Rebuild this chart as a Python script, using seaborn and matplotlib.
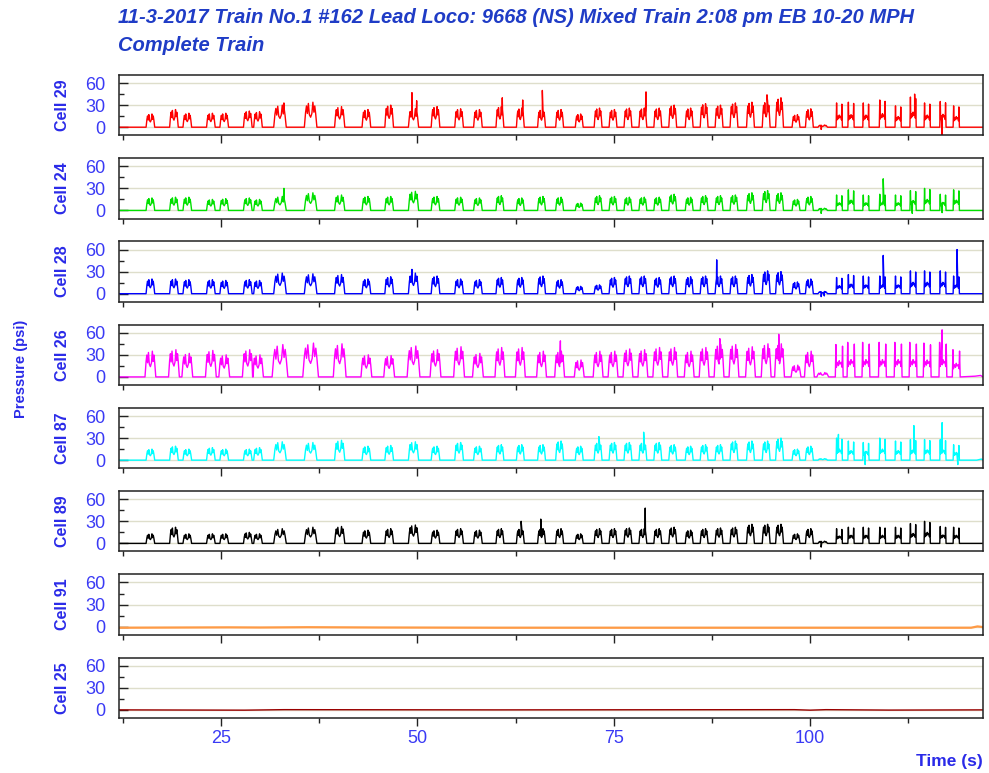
import numpy as np
import pandas as pd
import matplotlib
matplotlib.use("Agg")
import matplotlib.pyplot as plt
import seaborn as sns
from matplotlib.ticker import MultipleLocator

sns.set_theme(style="white")
plt.rcParams['font.family'] = ['Liberation Sans', 'DejaVu Sans']

TITLE_1 = "11-3-2017 Train No.1 #162 Lead Loco: 9668 (NS) Mixed Train 2:08 pm EB 10-20 MPH"
TITLE_2 = "Complete Train"

cells = ["Cell 29", "Cell 24", "Cell 28", "Cell 26", "Cell 87", "Cell 89", "Cell 91", "Cell 25"]
colors = ["#ff0000", "#00e000", "#0000ff", "#ff00ff", "#00ffff", "#000000", "#ff9a45", "#9a0000"]

burst_t = [16.0, 19.0, 20.7, 23.7, 25.4, 28.4, 29.7, 32.5, 36.4, 40.1,
           43.5, 46.4, 49.5, 52.3, 55.3, 57.7, 60.5, 63.1, 65.8, 68.1,
           70.6, 73.0, 74.9, 76.8, 78.7, 80.6, 82.5, 84.6, 86.5, 88.4,
           90.3, 92.4, 94.4, 96.1, 98.2, 99.9, 101.6, 103.7, 105.2, 107.1,
           109.2, 111.2, 113.1, 114.9, 116.9, 118.6]
burst_len = [1.1, 1.1, 1.1, 1.1, 1.1, 1.1, 1.1, 1.6, 1.6, 1.3,
             1.1, 1.1, 1.3, 1.1, 1.1, 1.1, 1.0, 1.0, 1.0, 1.0,
             1.0, 1.0, 1.0, 1.0, 1.0, 1.0, 1.0, 1.0, 1.0, 1.0,
             1.0, 1.0, 1.0, 1.0, 1.0, 1.0, 1.2, 0.8, 0.8, 0.8,
             0.8, 0.8, 0.8, 0.8, 0.8, 0.8]

# peak pressure of each burst (psi)
peak_29 = [18, 24, 19, 19, 19, 22, 21, 30, 34, 28, 24, 30, 25, 28, 25, 24, 28, 26, 24, 24,
           18, 26, 24, 26, 26, 26, 30, 26, 32, 30, 33, 34, 35, 40, 17, 25, 3, 33, 34, 33,
           37, 29, 41, 33, 35, 29]
peak_24 = [17, 18, 18, 15, 16, 17, 15, 19, 24, 21, 19, 19, 26, 19, 18, 17, 20, 17, 19, 18,
           10, 20, 19, 18, 18, 18, 22, 18, 20, 20, 21, 24, 27, 24, 15, 19, 3, 21, 28, 21,
           22, 21, 27, 30, 22, 28]
peak_28 = [20, 20, 19, 19, 18, 19, 18, 28, 27, 26, 20, 23, 28, 24, 20, 19, 22, 22, 24, 19,
           10, 12, 22, 24, 24, 22, 24, 23, 24, 24, 24, 26, 31, 30, 16, 20, 3, 22, 26, 24,
           24, 24, 31, 31, 31, 24]
peak_26 = [35, 37, 32, 36, 30, 37, 30, 44, 46, 45, 30, 29, 42, 37, 41, 32, 40, 40, 35, 35,
           23, 35, 35, 38, 37, 40, 40, 35, 40, 44, 44, 41, 45, 45, 16, 35, 6, 44, 47, 47,
           47, 47, 47, 46, 47, 37]
peak_87 = [15, 19, 15, 17, 15, 15, 17, 25, 24, 27, 19, 20, 25, 19, 24, 19, 21, 21, 21, 26,
           19, 24, 24, 24, 24, 24, 21, 19, 21, 21, 26, 26, 26, 30, 15, 19, 2, 30, 26, 24,
           30, 26, 28, 28, 28, 21]
peak_89 = [13, 22, 13, 13, 13, 15, 13, 20, 22, 23, 18, 20, 25, 18, 20, 18, 20, 20, 20, 20,
           13, 20, 20, 21, 20, 20, 22, 18, 20, 21, 22, 26, 26, 26, 13, 20, 3, 20, 22, 22,
           22, 22, 27, 30, 23, 22]

# single spikes / dips standing out of the bursts (time, psi)
spikes_29 = [(33.0, 33), (49.3, 47), (49.9, 36), (60.8, 40), (63.4, 37), (65.9, 50),
             (79.1, 48), (94.5, 44), (101.4, -3), (113.3, 45), (116.8, -11)]
spikes_24 = [(33.0, 30), (101.4, -4), (109.3, 43), (113.0, -4), (116.8, -3)]
spikes_28 = [(49.3, 33), (88.1, 46), (101.4, -4), (101.8, -3), (109.3, 52), (118.7, 60)]
spikes_26 = [(68.2, 49), (88.5, 52), (96.0, 58), (116.8, 64), (121.0, 1.0), (121.7, 2.0)]
spikes_87 = [(73.1, 32), (78.8, 38), (103.6, 35), (107.0, -6), (113.2, 47), (116.8, 51),
             (118.8, -6), (121.2, 0.0), (121.8, 1.5)]
spikes_89 = [(63.2, 30), (65.7, 33), (79.0, 48), (101.4, -5)]

# the two quiet cells
trace_91 = [(12, -1.5), (26, -1.0), (30, -1.2), (36, -0.8), (45, -1.2), (60, -1.5),
            (100, -1.5), (120.5, -1.5), (121.3, 0.3), (121.8, -0.3), (122, -1.0)]
trace_25 = [(12, 0.0), (28, -0.4), (33, 0.3), (60, 0.0), (98, 0.3), (100, -0.4),
            (102, 0.3), (110, -0.3), (122, 0.0)]

# pulse outline of one truck pair (relative time, fraction of the peak)
M_DT = [-0.5, -0.4, -0.33, -0.26, -0.18, -0.1, 0.0, 0.1, 0.18, 0.26, 0.33, 0.4, 0.5]
M_FR = [0, 0.6, 0.85, 0.55, 0.95, 0.5, 0.4, 0.55, 1.0, 0.6, 0.85, 0.55, 0]
U_DT = [-0.5, -0.42, -0.36, -0.25, -0.1, 0.0, 0.1, 0.25, 0.36, 0.42, 0.5]
U_FR = [0, 1.0, 0.3, 0.45, 0.35, 0.5, 0.4, 0.45, 0.3, 0.95, 0]

peaks = {"Cell 29": peak_29, "Cell 24": peak_24, "Cell 28": peak_28, "Cell 26": peak_26,
         "Cell 87": peak_87, "Cell 89": peak_89}
spikes = {"Cell 29": spikes_29, "Cell 24": spikes_24, "Cell 28": spikes_28, "Cell 26": spikes_26,
          "Cell 87": spikes_87, "Cell 89": spikes_89}
flat = {"Cell 91": trace_91, "Cell 25": trace_25}


def build_trace(cell):
    if cell in flat:
        return flat[cell]
    pts = [(12.0, 0.0), (122.0, 0.0)]
    widen = 1.25 if cell == "Cell 26" else 1.0
    for t, w, h in zip(burst_t, burst_len, peaks[cell]):
        dts, frs = (U_DT, U_FR) if t > 102.5 else (M_DT, M_FR)
        for d, f in zip(dts, frs):
            pts.append((t + d * w * widen, f * h))
    pts += spikes[cell]
    return pts


rows = []
for cell in cells:
    for t, p in build_trace(cell):
        rows.append({"cell": cell, "time": t, "psi": p})
df = pd.DataFrame(rows).sort_values(["cell", "time"])

tick_blue = "#3a3af5"
label_blue = "#2a2ae8"

fig, axes = plt.subplots(8, 1, figsize=(9.89, 7.73), dpi=100, sharex=True)
fig.subplots_adjust(left=0.1203, right=0.9939, top=0.903, bottom=0.0712, hspace=0.38)

for i, (ax, cell, col) in enumerate(zip(axes, cells, colors)):
    sub = df[df["cell"] == cell]
    lw = 1.6 if cell == "Cell 91" else 1.0
    sns.lineplot(data=sub, x="time", y="psi", color=col, linewidth=lw,
                 estimator=None, sort=True, ax=ax)
    ax.set_xlim(12, 122)
    ax.set_ylim(-11, 71)
    ax.set_yticks([0, 30, 60])
    ax.yaxis.set_minor_locator(MultipleLocator(15))
    ax.set_xticks([25, 50, 75, 100])
    ax.xaxis.set_minor_locator(MultipleLocator(12.5))
    ax.grid(axis="y", which="major", color="#dedecb", linewidth=1)
    ax.set_axisbelow(True)
    ax.tick_params(axis="y", which="major", direction="in", length=6.5, width=1,
                   color="#222222", labelcolor=tick_blue, labelsize=13, pad=9.5, left=True)
    ax.tick_params(axis="y", which="minor", direction="in", length=3.5, width=1,
                   color="#222222", left=True)
    ax.tick_params(axis="x", which="major", direction="out", length=5.8, width=1,
                   color="#222222", labelcolor=tick_blue, labelsize=13, pad=3,
                   bottom=True, labelbottom=(i == 7))
    ax.tick_params(axis="x", which="minor", direction="out", length=3.6, width=1,
                   color="#222222", bottom=True)
    for sp in ax.spines.values():
        sp.set_color("#222222")
        sp.set_linewidth(1.1)
    ax.set_xlabel("")
    ax.set_ylabel(cell, fontsize=11.5, fontweight="bold", color=label_blue)
    ax.yaxis.set_label_coords(-0.057, 0.5)

fig.text(0.119, 0.977, TITLE_1, fontsize=14.5, fontweight="bold", fontstyle="italic",
         color="#1f3cc6", ha="left", va="center")
fig.text(0.119, 0.941, TITLE_2, fontsize=14.5, fontweight="bold", fontstyle="italic",
         color="#1f3cc6", ha="left", va="center")
fig.text(0.021, 0.523, "Pressure (psi)", rotation=90, fontsize=10.5, fontweight="bold",
         color=label_blue, ha="center", va="center")
fig.text(0.994, 0.0155, "Time (s)", fontsize=12.5, fontweight="bold",
         color=label_blue, ha="right", va="center")

fig.savefig("out.png", dpi=100)
